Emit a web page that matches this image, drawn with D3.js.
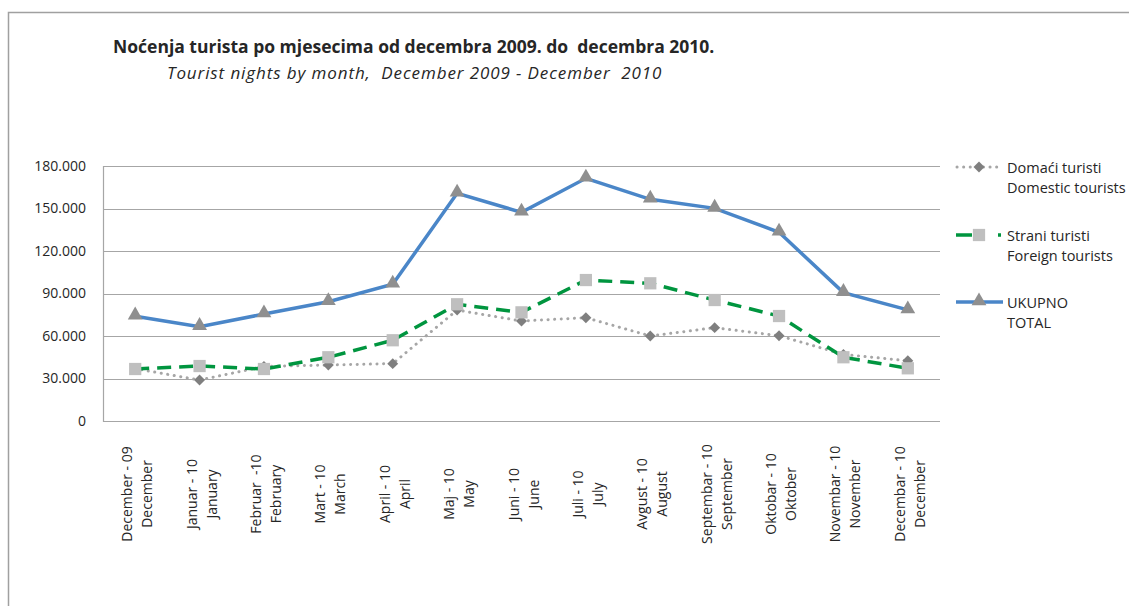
<!DOCTYPE html>
<html>
<head>
<meta charset="utf-8">
<script src="https://cdn.jsdelivr.net/npm/d3@7"></script>
<style>
  body { margin: 0; background: #fff; }
  text { font-family: "Open Sans", Lato, sans-serif; fill: #262626; white-space: pre; }
</style>
</head>
<body>
<div id="chart"></div>
<script>
// podaci ocitani sa slike
const months = [
  ['December - 09', 'December'], ['Januar - 10', 'January'], ['Februar  -10', 'February'],
  ['Mart - 10', 'March'], ['April - 10', 'April'], ['Maj - 10', 'May'], ['Juni - 10', 'June'],
  ['Juli - 10', 'July'], ['Avgust - 10', 'August'], ['Septembar - 10', 'September'],
  ['Oktobar - 10', 'Oktober'], ['Novembar - 10', 'November'], ['Decembar - 10', 'December']
];
const domestic = [37000, 28900, 38500, 39500, 40500, 78300, 70600, 72900, 60000, 65900, 60200, 47000, 42500];
const foreign = [36700, 38800, 36700, 45000, 57000, 82400, 76700, 99500, 97200, 85400, 74100, 45000, 37200];
const total = [74000, 66600, 75500, 84200, 96500, 160700, 147300, 171300, 156500, 150100, 133200, 90600, 78400];
const yTicks = [0, 30000, 60000, 90000, 120000, 150000, 180000];

const width = 1129, height = 606;
const svg = d3.select('#chart').append('svg')
  .attr('width', width)
  .attr('height', height);

// okvir
svg.append('path')
  .attr('d', `M8.5,${height} V12.5 H${width}`)
  .attr('fill', 'none')
  .attr('stroke', '#a0a0a0')
  .attr('stroke-width', 1.5);

svg.append('text')
  .attr('x', 113).attr('y', 53)
  .attr('font-size', 17.5).attr('font-weight', 'bold')
  .text('Noćenja turista po mjesecima od decembra 2009. do  decembra 2010.');
svg.append('text')
  .attr('x', 167).attr('y', 79)
  .attr('font-size', 17).attr('font-style', 'italic')
  .attr('letter-spacing', 0.9)
  .text('Tourist nights by month,  December 2009 - December  2010');

const x = d3.scaleBand().domain(d3.range(months.length)).range([103, 940]);
const y = d3.scaleLinear().domain([0, 180000]).range([421, 166]);
const cx = (i) => x(i) + x.bandwidth() / 2;

// mreza
svg.append('g').selectAll('line').data(yTicks).join('line')
  .attr('x1', 103).attr('x2', 940)
  .attr('y1', (d) => Math.round(y(d)) + 0.5).attr('y2', (d) => Math.round(y(d)) + 0.5)
  .attr('stroke', '#a6a6a6').attr('stroke-width', 1.2);

svg.append('line')
  .attr('x1', 103.5).attr('x2', 103.5).attr('y1', 166).attr('y2', 422)
  .attr('stroke', '#a6a6a6').attr('stroke-width', 1.2);

const yAxis = d3.axisLeft(y).tickValues(yTicks).tickSize(0).tickPadding(17)
  .tickFormat((d) => d === 0 ? '0' : d3.format(',')(d).replace(',', '.'));
svg.append('g').attr('transform', 'translate(103,0)').call(yAxis)
  .call((g) => g.select('.domain').remove())
  .selectAll('text')
  .attr('font-size', 14)
  .attr('font-family', '"Open Sans", sans-serif')
  .attr('fill', '#262626');

// oznake meseci
const labels = svg.append('g').selectAll('g').data(months).join('g')
  .attr('transform', (d, i) => `translate(${cx(i)},494) rotate(-90)`);
labels.append('text').attr('text-anchor', 'middle').attr('y', -3).attr('font-size', 14).text((d) => d[0]);
labels.append('text').attr('text-anchor', 'middle').attr('y', 17).attr('font-size', 14).text((d) => d[1]);

const line = d3.line().x((d, i) => cx(i)).y((d) => y(d));

svg.append('path').datum(domestic).attr('d', line)
  .attr('fill', 'none').attr('stroke', '#a6a6a6').attr('stroke-width', 3)
  .attr('stroke-linecap', 'round').attr('stroke-dasharray', '0.1 6.5');
svg.append('path').datum(foreign).attr('d', line)
  .attr('fill', 'none').attr('stroke', '#00953f').attr('stroke-width', 3.5)
  .attr('stroke-dasharray', '14 8');
svg.append('path').datum(total).attr('d', line)
  .attr('fill', 'none').attr('stroke', '#4a86c8').attr('stroke-width', 3.5);

const diamond = d3.symbol().type(d3.symbolSquare).size(60);
const square = d3.symbol().type(d3.symbolSquare).size(150);
const triangle = d3.symbol().type(d3.symbolTriangle).size(95);

svg.append('g').selectAll('path').data(domestic).join('path')
  .attr('d', diamond)
  .attr('transform', (d, i) => `translate(${cx(i)},${y(d)}) rotate(45)`)
  .attr('fill', '#7f7f7f');
svg.append('g').selectAll('path').data(foreign).join('path')
  .attr('d', square)
  .attr('transform', (d, i) => `translate(${cx(i)},${y(d)})`)
  .attr('fill', '#bfbfbf');
svg.append('g').selectAll('path').data(total).join('path')
  .attr('d', triangle)
  .attr('transform', (d, i) => `translate(${cx(i)},${y(d) - 1})`)
  .attr('fill', '#8f8f8f');

// legenda
const legend = [
  { name: ['Domaći turisti', 'Domestic tourists'], y: 167 },
  { name: ['Strani turisti', 'Foreign tourists'], y: 235 },
  { name: ['UKUPNO', 'TOTAL'], y: 302 }
];
const lg = svg.append('g').selectAll('g').data(legend).join('g')
  .attr('transform', (d) => `translate(0,${d.y})`);

lg.filter((d, i) => i === 0).append('line')
  .attr('x1', 957).attr('x2', 999)
  .attr('stroke', '#a6a6a6').attr('stroke-width', 3)
  .attr('stroke-linecap', 'round').attr('stroke-dasharray', '0.1 6.5');
lg.filter((d, i) => i === 1).append('line')
  .attr('x1', 956).attr('x2', 1001)
  .attr('stroke', '#00953f').attr('stroke-width', 3.5)
  .attr('stroke-dasharray', '16 26 3');
lg.filter((d, i) => i === 2).append('line')
  .attr('x1', 956).attr('x2', 1003)
  .attr('stroke', '#4a86c8').attr('stroke-width', 3.5);

lg.filter((d, i) => i === 0).append('path').attr('d', diamond)
  .attr('transform', 'translate(979,0) rotate(45)').attr('fill', '#7f7f7f');
lg.filter((d, i) => i === 1).append('path').attr('d', square)
  .attr('transform', 'translate(979,0)').attr('fill', '#bfbfbf');
lg.filter((d, i) => i === 2).append('path').attr('d', triangle)
  .attr('transform', 'translate(979,-1)').attr('fill', '#8f8f8f');

lg.append('text').attr('x', 1007).attr('y', 6).attr('font-size', 14.5).text((d) => d.name[0]);
lg.append('text').attr('x', 1007).attr('y', 26).attr('font-size', 14.5).text((d) => d.name[1]);
</script>
</body>
</html>
